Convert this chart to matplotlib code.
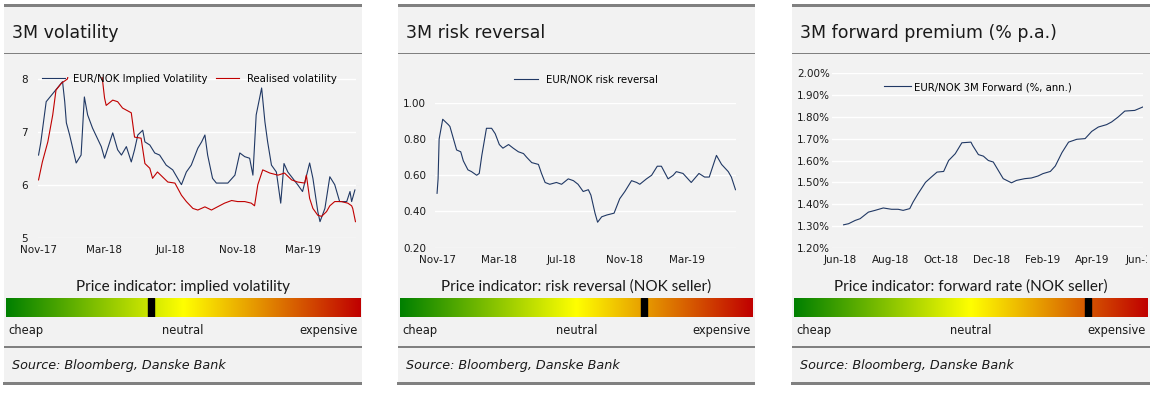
import matplotlib
matplotlib.use("Agg")
import matplotlib.pyplot as plt
import matplotlib.dates as mdates
from matplotlib.colors import LinearSegmentedColormap
from matplotlib.patches import Rectangle
from matplotlib.transforms import Bbox, TransformedBbox
import numpy as np
import pandas as pd

W, H = 1163, 393

# ---- data ----
implied_dates = ["2017-11-01", "2017-11-05", "2017-11-15", "2017-11-30", "2017-12-15", "2017-12-19",
                 "2017-12-22", "2017-12-28", "2018-01-09", "2018-01-18", "2018-01-24", "2018-01-30",
                 "2018-02-08", "2018-02-24", "2018-03-02", "2018-03-17", "2018-03-26", "2018-04-02",
                 "2018-04-11", "2018-04-20", "2018-04-26", "2018-05-02", "2018-05-11", "2018-05-15",
                 "2018-05-24", "2018-06-02", "2018-06-11", "2018-06-23", "2018-07-05", "2018-07-18",
                 "2018-07-21", "2018-07-30", "2018-08-08", "2018-08-20", "2018-08-27", "2018-09-02",
                 "2018-09-07", "2018-09-16", "2018-09-23", "2018-10-14", "2018-10-27", "2018-11-05",
                 "2018-11-14", "2018-11-23", "2018-11-29", "2018-12-05", "2018-12-15", "2018-12-21",
                 "2018-12-26", "2019-01-02", "2019-01-11", "2019-01-19", "2019-01-25", "2019-02-01",
                 "2019-02-10", "2019-02-19", "2019-02-28", "2019-03-13", "2019-03-19", "2019-03-28",
                 "2019-04-01", "2019-04-10", "2019-04-19", "2019-04-28", "2019-05-07", "2019-05-20",
                 "2019-05-26", "2019-05-29", "2019-06-04"]
implied_vol = [6.56, 6.79, 7.57, 7.76, 7.95, 7.57,
               7.17, 6.94, 6.41, 6.56, 7.66, 7.32,
               7.07, 6.72, 6.50, 6.98, 6.66, 6.56,
               6.72, 6.43, 6.66, 6.94, 7.03, 6.81,
               6.75, 6.60, 6.56, 6.37, 6.28, 6.05,
               6.00, 6.24, 6.37, 6.69, 6.81, 6.94,
               6.56, 6.12, 6.03, 6.03, 6.18, 6.60,
               6.53, 6.50, 6.18, 7.32, 7.83, 7.19,
               6.81, 6.37, 6.24, 5.65, 6.40, 6.24,
               6.12, 6.00, 5.87, 6.41, 6.12, 5.49,
               5.30, 5.55, 6.15, 6.00, 5.68, 5.68,
               5.87, 5.68, 5.90]

realised_dates = ["2017-11-01", "2017-11-08", "2017-11-18", "2017-11-27", "2017-12-03", "2017-12-13",
                  "2017-12-24", "2017-12-31", "2018-01-25", "2018-02-19", "2018-02-26", "2018-03-02",
                  "2018-03-05", "2018-03-17", "2018-03-26", "2018-04-04", "2018-04-20", "2018-04-26",
                  "2018-05-08", "2018-05-15", "2018-05-24", "2018-05-29", "2018-06-07", "2018-06-14",
                  "2018-06-26", "2018-07-09", "2018-07-21", "2018-07-30", "2018-08-11", "2018-08-20",
                  "2018-09-02", "2018-09-14", "2018-09-25", "2018-10-08", "2018-10-21", "2018-11-01",
                  "2018-11-14", "2018-11-26", "2018-12-02", "2018-12-08", "2018-12-17", "2018-12-30",
                  "2019-01-14", "2019-01-26", "2019-02-08", "2019-02-19", "2019-03-04", "2019-03-07",
                  "2019-03-13", "2019-03-19", "2019-03-28", "2019-04-04", "2019-04-13", "2019-04-19",
                  "2019-04-28", "2019-05-10", "2019-05-22", "2019-05-29", "2019-05-31", "2019-06-05"]
realised_vol = [6.09, 6.43, 6.81, 7.32, 7.79, 7.92,
                8.00, 8.40, 8.60, 8.30, 8.00, 7.64,
                7.50, 7.60, 7.57, 7.45, 7.36, 6.90,
                6.88, 6.40, 6.31, 6.12, 6.24, 6.17,
                6.05, 6.03, 5.80, 5.68, 5.55, 5.52,
                5.58, 5.52, 5.58, 5.65, 5.70, 5.68,
                5.68, 5.65, 5.60, 6.00, 6.28, 6.22,
                6.18, 6.22, 6.09, 6.05, 6.03, 6.18,
                5.74, 5.55, 5.42, 5.40, 5.49, 5.60,
                5.68, 5.68, 5.65, 5.60, 5.55, 5.30]

rr_dates = ["2017-11-01", "2017-11-03", "2017-11-05", "2017-11-12", "2017-11-23", "2017-11-26",
            "2017-12-03", "2017-12-09", "2017-12-17", "2017-12-22", "2017-12-31", "2018-01-07",
            "2018-01-17", "2018-01-22", "2018-01-27", "2018-01-30", "2018-02-05", "2018-02-15",
            "2018-02-22", "2018-03-02", "2018-03-09", "2018-03-20", "2018-03-29", "2018-04-08",
            "2018-04-18", "2018-04-24", "2018-05-04", "2018-05-17", "2018-05-23", "2018-05-30",
            "2018-06-08", "2018-06-21", "2018-07-01", "2018-07-14", "2018-07-24", "2018-08-02",
            "2018-08-12", "2018-08-22", "2018-08-27", "2018-09-04", "2018-09-09", "2018-09-17",
            "2018-09-27", "2018-10-11", "2018-10-22", "2018-11-01", "2018-11-14", "2018-11-24",
            "2018-11-30", "2018-12-13", "2018-12-23", "2019-01-03", "2019-01-11", "2019-01-24",
            "2019-02-03", "2019-02-09", "2019-02-22", "2019-03-10", "2019-03-25", "2019-04-05",
            "2019-04-14", "2019-04-28", "2019-05-08", "2019-05-21", "2019-05-27", "2019-06-04"]
rr_values = [0.50, 0.58, 0.80, 0.91, 0.88, 0.87,
             0.80, 0.74, 0.73, 0.68, 0.63, 0.62,
             0.60, 0.61, 0.71, 0.76, 0.86, 0.86,
             0.83, 0.77, 0.75, 0.77, 0.75, 0.73,
             0.72, 0.70, 0.67, 0.66, 0.61, 0.56,
             0.55, 0.56, 0.55, 0.58, 0.57, 0.55,
             0.51, 0.52, 0.49, 0.39, 0.34, 0.37,
             0.38, 0.39, 0.47, 0.51, 0.57, 0.56,
             0.55, 0.58, 0.60, 0.65, 0.65, 0.58,
             0.60, 0.62, 0.61, 0.56, 0.61, 0.59,
             0.59, 0.71, 0.66, 0.62, 0.59, 0.52]

fwd_dates = ["2018-06-05", "2018-06-11", "2018-06-19", "2018-06-25", "2018-07-05", "2018-07-13",
             "2018-07-23", "2018-08-02", "2018-08-10", "2018-08-16", "2018-08-24", "2018-08-28",
             "2018-09-03", "2018-09-07", "2018-09-12", "2018-09-19", "2018-09-26", "2018-10-04",
             "2018-10-10", "2018-10-18", "2018-10-26", "2018-11-06", "2018-11-08", "2018-11-15",
             "2018-11-21", "2018-11-27", "2018-12-03", "2018-12-09", "2018-12-15", "2018-12-25",
             "2018-12-31", "2019-01-10", "2019-01-18", "2019-01-26", "2019-02-01", "2019-02-10",
             "2019-02-16", "2019-02-24", "2019-03-04", "2019-03-14", "2019-03-24", "2019-04-01",
             "2019-04-09", "2019-04-19", "2019-04-25", "2019-05-03", "2019-05-11", "2019-05-23",
             "2019-06-02"]
fwd_values = [1.306, 1.311, 1.326, 1.334, 1.364, 1.372,
              1.383, 1.377, 1.377, 1.372, 1.380, 1.410,
              1.448, 1.471, 1.500, 1.524, 1.547, 1.550,
              1.600, 1.631, 1.681, 1.684, 1.669, 1.627,
              1.620, 1.600, 1.593, 1.555, 1.517, 1.498,
              1.509, 1.517, 1.520, 1.529, 1.540, 1.550,
              1.575, 1.636, 1.684, 1.697, 1.700, 1.733,
              1.753, 1.764, 1.776, 1.799, 1.826, 1.829,
              1.845]

TITLES = ["3M volatility", "3M risk reversal", "3M forward premium (% p.a.)"]
INDICATOR_LABELS = ["Price indicator: implied volatility",
                    "Price indicator: risk reversal (NOK seller)",
                    "Price indicator: forward rate (NOK seller)"]
INDICATOR_POS = [0.41, 0.69, 0.83]
SOURCE = "Source: Bloomberg, Danske Bank"

# ---- style ----
BG = "#f2f2f2"
RULE = "#808080"
BLUE = "#203864"
RED = "#c00000"
TXT = "#1a1a1a"
PANELS_X = [(4, 362), (398, 755), (792, 1150)]

fig = plt.figure(figsize=(W / 100, H / 100), dpi=100)
fig.patch.set_facecolor("white")


def px_rect(x0, y0, x1, y1):
    # pixel box (top-left origin) -> figure fraction rect
    return [x0 / W, 1 - y1 / H, (x1 - x0) / W, (y1 - y0) / H]


def fig_box(x0, y0, x1, y1, color, z=1):
    r = px_rect(x0, y0, x1, y1)
    fig.add_artist(Rectangle((r[0], r[1]), r[2], r[3], transform=fig.transFigure,
                             facecolor=color, edgecolor="none", zorder=z))


def fig_txt(x, y, s, **kw):
    kw.setdefault("color", TXT)
    fig.text(x / W, 1 - y / H, s, **kw)


def style_axes(ax, xpad, ypad):
    ax.set_facecolor("none")
    for sp in ax.spines.values():
        sp.set_visible(False)
    ax.grid(axis="y", color="white", linewidth=1.0)
    ax.set_axisbelow(True)
    ax.tick_params(length=0, labelsize=7.5, labelcolor=TXT)
    ax.tick_params(axis="x", pad=xpad)
    ax.tick_params(axis="y", pad=ypad)


grad_cmap = LinearSegmentedColormap.from_list("ind", ["#008000", "#ffff00", "#c00000"])

# panel frames, titles, indicator bars, source
for i, (x0, x1) in enumerate(PANELS_X):
    fig_box(x0, 4, x1, 384, BG, z=-5)
    fig_box(x0, 4, x1, 7, RULE)
    fig_box(x0, 52.5, x1, 53.5, RULE)
    fig_box(x0, 346, x1, 348, RULE)
    fig_box(x0 - 1, 381.5, x1, 384.5, RULE)

    fig_txt(x0 + 8, 37.5, TITLES[i], fontsize=12.5, va="baseline", ha="left")

    bx0, bx1 = x0 + 2, x1 - 2
    cx = (bx0 + bx1) / 2
    fig_txt(cx, 291, INDICATOR_LABELS[i], fontsize=11, family="Lato", va="baseline", ha="center")

    bar = fig.add_axes(px_rect(bx0, 298, bx1, 317))
    bar.imshow(np.linspace(0, 1, 512)[None, :], cmap=grad_cmap, aspect="auto",
               extent=(0, 1, 0, 1))
    bw = 6 / (bx1 - bx0)
    bar.add_patch(Rectangle((INDICATOR_POS[i] - bw / 2, 0), bw, 1, color="black"))
    bar.set_xlim(0, 1)
    bar.set_ylim(0, 1)
    bar.axis("off")

    fig_txt(bx0 + 2, 334, "cheap", fontsize=8.3, va="baseline", ha="left")
    fig_txt(cx, 334, "neutral", fontsize=8.3, va="baseline", ha="center")
    fig_txt(bx1 - 2, 334, "expensive", fontsize=8.3, va="baseline", ha="right")

    fig_txt(x0 + 8, 369, SOURCE, fontsize=9.2, style="italic", va="baseline", ha="left")

# ---- panel 1: volatility ----
ax1 = fig.add_axes(px_rect(38, 77.4, 356, 237.5))
ax1.plot(pd.to_datetime(implied_dates), implied_vol, color=BLUE, lw=0.8,
         label="EUR/NOK Implied Volatility")
ax1.plot(pd.to_datetime(realised_dates), realised_vol, color=RED, lw=0.8,
         label="Realised volatility")
ax1.set_ylim(5, 8.03)
ax1.set_yticks([5, 6, 7, 8])
ax1.set_xlim(pd.Timestamp("2017-10-31"), pd.Timestamp("2019-06-06"))
ax1.set_xticks(pd.to_datetime(["2017-11-01", "2018-03-01", "2018-07-01", "2018-11-01", "2019-03-01"]))
ax1.xaxis.set_major_formatter(mdates.DateFormatter("%b-%y"))
style_axes(ax1, 5.4, 7.2)
ax1.legend(loc="center left", bbox_to_anchor=(42 / W, 1 - 79 / H), bbox_transform=fig.transFigure,
           frameon=False, ncol=2, fontsize=7.3, borderpad=0, borderaxespad=0,
           handlelength=2.27, handletextpad=0.8, columnspacing=0.8)

# ---- panel 2: risk reversal ----
ax2 = fig.add_axes(px_rect(435, 103, 736, 247.5))
ax2.plot(pd.to_datetime(rr_dates), rr_values, color=BLUE, lw=0.8, label="EUR/NOK risk reversal")
ax2.set_ylim(0.2, 1.0)
ax2.set_yticks([0.2, 0.4, 0.6, 0.8, 1.0])
ax2.yaxis.set_major_formatter(plt.FuncFormatter(lambda v, p: f"{v:.2f}"))
ax2.set_xlim(pd.Timestamp("2017-10-28"), pd.Timestamp("2019-06-05"))
ax2.set_xticks(pd.to_datetime(["2017-11-01", "2018-03-01", "2018-07-01", "2018-11-01", "2019-03-01"]))
ax2.xaxis.set_major_formatter(mdates.DateFormatter("%b-%y"))
style_axes(ax2, 5.4, 6.5)
ax2.legend(loc="center left", bbox_to_anchor=(514 / W, 1 - 80 / H), bbox_transform=fig.transFigure,
           frameon=False, fontsize=7.3, borderpad=0, borderaxespad=0,
           handlelength=2.4, handletextpad=0.8)

# ---- panel 3: forward premium ----
ax3 = fig.add_axes(px_rect(832, 73, 1143, 248))
ax3.plot(pd.to_datetime(fwd_dates), fwd_values, color=BLUE, lw=0.8, label="EUR/NOK 3M Forward (%, ann.)")
ax3.set_ylim(1.2, 2.0)
ax3.set_yticks(np.arange(1.2, 2.001, 0.1))
ax3.yaxis.set_major_formatter(plt.FuncFormatter(lambda v, p: f"{v:.2f}%"))
ax3.set_xlim(pd.Timestamp("2018-05-22"), pd.Timestamp("2019-06-02"))
ax3.set_xticks(pd.to_datetime(["2018-06-01", "2018-08-01", "2018-10-01", "2018-12-01",
                               "2019-02-01", "2019-04-01", "2019-06-01"]))
ax3.xaxis.set_major_formatter(mdates.DateFormatter("%b-%y"))
style_axes(ax3, 5.0, 1.5)
ax3.legend(loc="center left", bbox_to_anchor=(884 / W, 1 - 87 / H), bbox_transform=fig.transFigure,
           frameon=False, fontsize=7.3, borderpad=0, borderaxespad=0,
           handlelength=2.7, handletextpad=0.3)

# last date label is cut in the original
fig.canvas.draw()
clip = TransformedBbox(Bbox([[PANELS_X[2][0] / W, 0], [1147 / W, 1]]), fig.transFigure)
for tick in ax3.xaxis.get_major_ticks():
    tick.label1.set_clip_on(True)
    tick.label1.set_clip_box(clip)

fig.savefig("out.png", dpi=100, facecolor="white")
